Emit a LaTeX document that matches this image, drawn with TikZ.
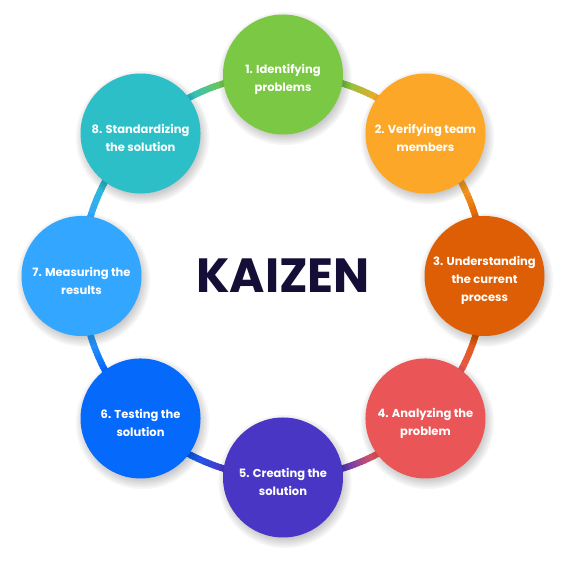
\documentclass[tikz,border=0pt]{standalone}
\usepackage{fontspec}
\setmainfont{Poppins}
\usetikzlibrary{calc}
\definecolor{kz1}{HTML}{7AC843}
\definecolor{kz2}{HTML}{FCA727}
\definecolor{kz3}{HTML}{DE5E05}
\definecolor{kz4}{HTML}{EA5658}
\definecolor{kz5}{HTML}{4A36C5}
\definecolor{kz6}{HTML}{0569FB}
\definecolor{kz7}{HTML}{33A7FF}
\definecolor{kz8}{HTML}{2CBFC7}
\definecolor{kzink}{HTML}{150F38}
\pgfdeclarelayer{ring}
\pgfdeclarelayer{shade}
\pgfsetlayers{ring,shade,main}

\begin{document}
\begin{tikzpicture}[ring radius/.initial=201.5pt,
    bubble/.style={circle,fill=#1,minimum size=120pt,inner sep=0pt},
    bubble text/.style={text=white,align=center,font=\fontsize{11.5}{18}\selectfont\bfseries}]
    \useasboundingbox (0,0) rectangle (566pt,561pt);
    \coordinate (ring) at (283pt,285pt);
    \node[font=\fontsize{48}{50}\selectfont\bfseries,text=kzink] (title) at (ring) {KAIZEN};
    \foreach \X [count=\Y] in 
    {{1. Identifying\\problems},{2. Verifying team\\members},
     {3. Understanding\\the current\\process},{4. Analyzing the\\problem},
     {5. Creating the\\solution},{6. Testing the\\solution},
     {7. Measuring the\\results},{8. Standardizing\\the solution}}
     {\pgfmathsetmacro{\A}{135-45*\Y}
      \node[bubble=kz\Y] (C-\Y) at ($(ring)+(\A:\pgfkeysvalueof{/tikz/ring radius})$) {};
      \node[bubble text] (T-\Y) at ([yshift=-4.5pt]C-\Y.center) {\X};
      \begin{pgfonlayer}{shade}
       \foreach \S in {1,...,8}
        {\fill[black,opacity=.034] ([shift={(2pt,-4pt)}]C-\Y.center) circle ({53pt+1.7pt*\S});}
      \end{pgfonlayer}}
    % ring pieces, colour running from one bubble to the next
    \begin{pgfonlayer}{ring}
     \foreach \Y [evaluate=\Y as \Z using {int(mod(\Y,8)+1)}] in {1,...,8}
      {\foreach \T in {0,...,44}
        {\pgfmathtruncatemacro{\P}{min(100,max(0,(\T-17)*100/11))}
         \draw[line width=6.5pt,draw=kz\Z!\P!kz\Y] ($(ring)!1!-\T:(C-\Y.center)$)
          arc[start angle={135-45*\Y-\T},delta angle=-1.3,radius=\pgfkeysvalueof{/tikz/ring radius}];}}
    \end{pgfonlayer}
\end{tikzpicture}
\end{document}
